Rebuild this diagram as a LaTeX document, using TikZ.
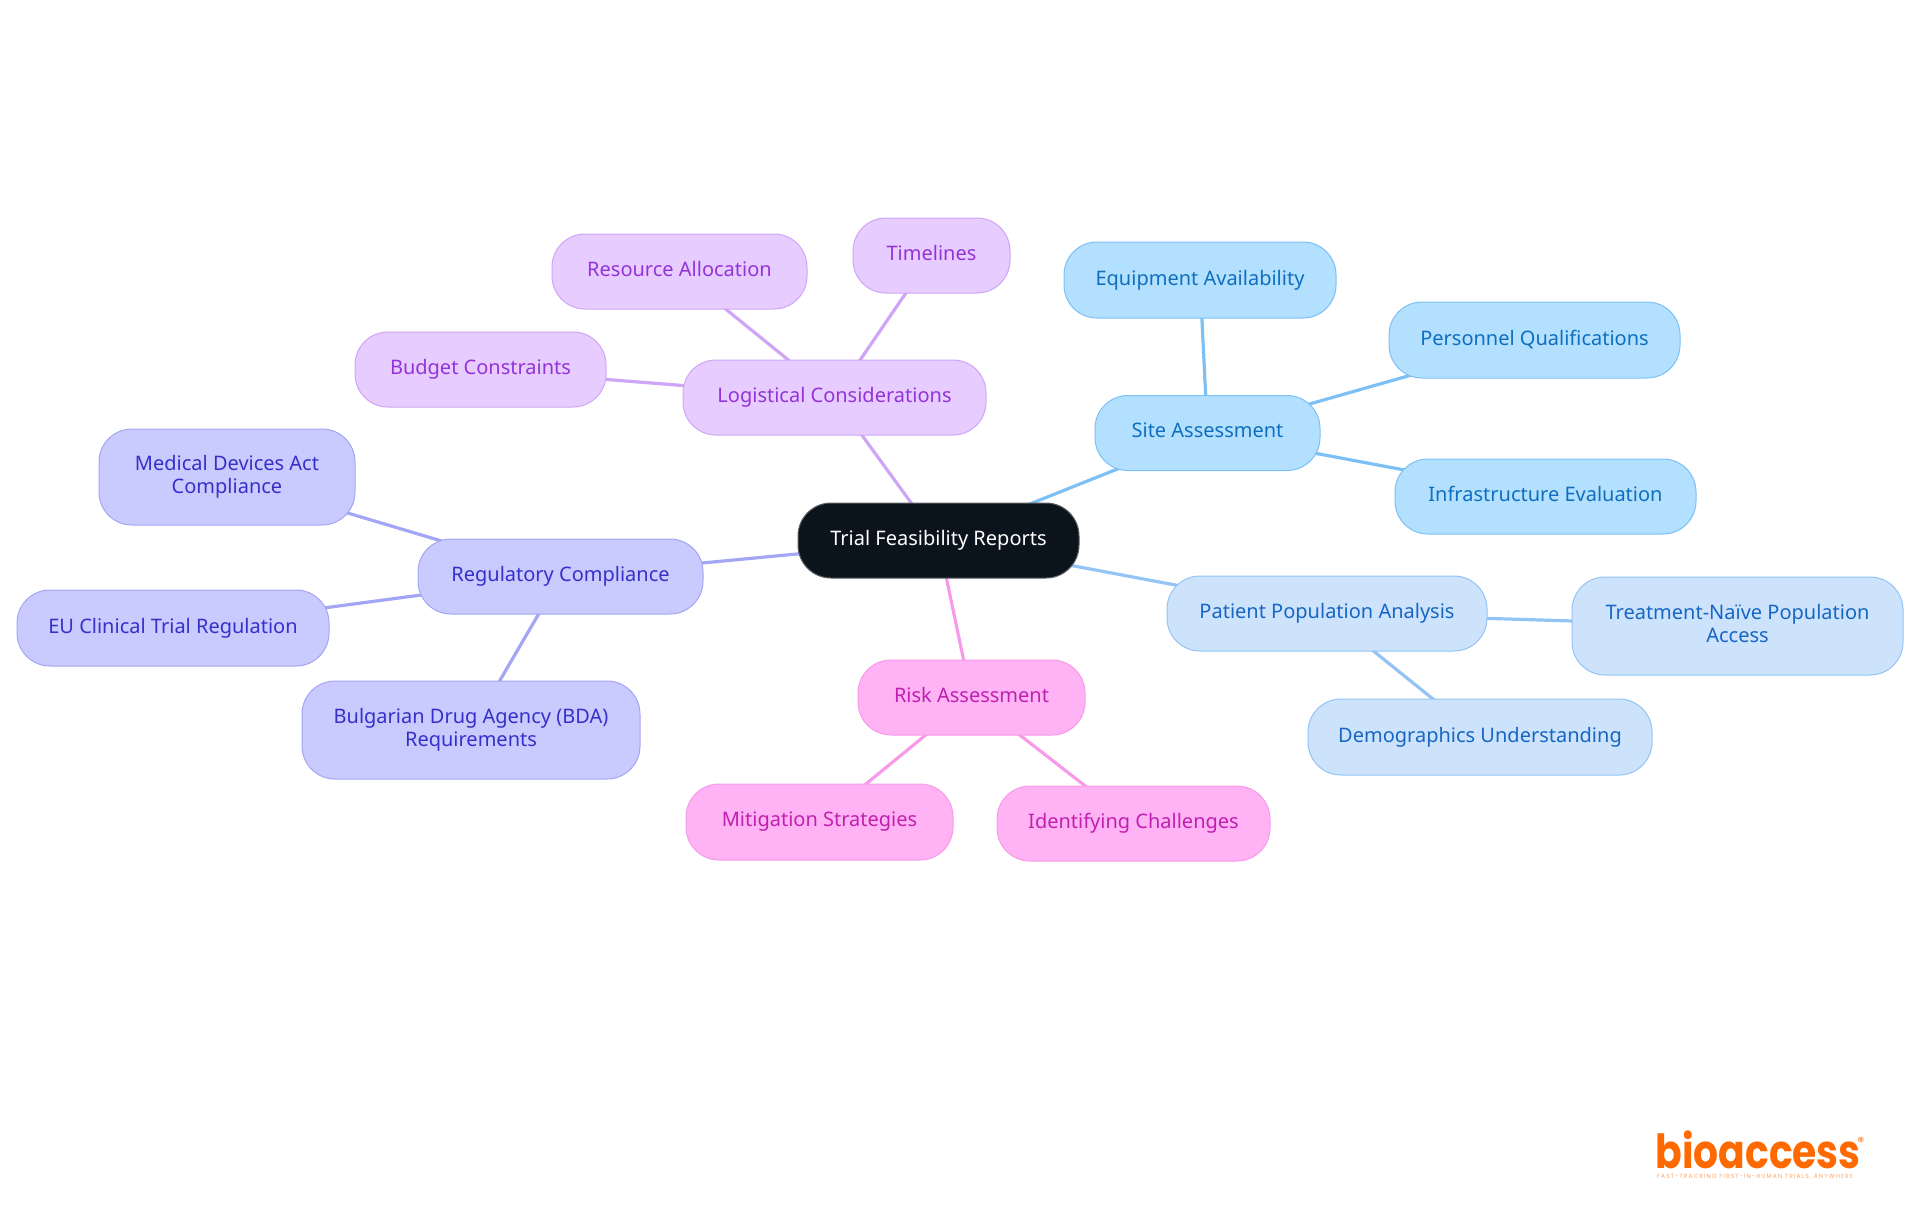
\documentclass[tikz,border=0pt]{standalone}
\usepackage{fontspec}
\setmainfont{Noto Sans}
\newfontfamily\logofont[FakeStretch=0.835]{Poppins}
\newfontfamily\tagfont[LetterSpace=18]{Poppins}
\usetikzlibrary{backgrounds}
\definecolor{rootfill}{HTML}{0B131C}
\definecolor{regfill}{HTML}{C9CBFF}
\definecolor{regline}{HTML}{A3A6F4}
\definecolor{regtext}{HTML}{3730C8}
\definecolor{logfill}{HTML}{E7CCFF}
\definecolor{logline}{HTML}{CFA5F5}
\definecolor{logtext}{HTML}{9333D8}
\definecolor{sitefill}{HTML}{B3E0FF}
\definecolor{siteline}{HTML}{7CC0F5}
\definecolor{sitetext}{HTML}{0F6FBF}
\definecolor{patfill}{HTML}{CDE3FC}
\definecolor{patline}{HTML}{93C4F5}
\definecolor{pattext}{HTML}{1766C4}
\definecolor{riskfill}{HTML}{FFB3F5}
\definecolor{riskline}{HTML}{F79BE8}
\definecolor{risktext}{HTML}{C020B0}
\definecolor{logoorange}{HTML}{FF6A00}
\newcommand{\topicstrut}{\rule[-2.4pt]{0pt}{9.6pt}}
\tikzset{
 topic/.style={rounded corners=16.5pt, align=center, font=\fontsize{10}{11.5}\selectfont, inner sep=0, line width=.5pt,
   execute at begin node=\topicstrut, execute at end node=\topicstrut},
 regbox/.style={topic, fill=regfill, draw=regline, text=regtext},
 logbox/.style={topic, fill=logfill, draw=logline, text=logtext},
 sitebox/.style={topic, fill=sitefill, draw=siteline, text=sitetext},
 patbox/.style={topic, fill=patfill, draw=patline, text=pattext},
 riskbox/.style={topic, fill=riskfill, draw=riskline, text=risktext},
 rootbox/.style={topic, fill=rootfill, draw=gray!70!rootfill, text=white},
}
\begin{document}
\begin{tikzpicture}[x=.5pt, y=-.5pt]
\useasboundingbox (0,0) rectangle (1920,1215);
\node[rootbox, minimum width=140.5pt, minimum height=37.5pt] (root) at (938.5,540.5) {Trial Feasibility Reports};
\node[regbox, minimum width=142.5pt, minimum height=37.5pt] (reg) at (560.5,576.5) {Regulatory Compliance};
\node[regbox, minimum width=128pt, minimum height=48pt] (medical) at (227,477) {Medical Devices Act\\Compliance};
\node[regbox, minimum width=156pt, minimum height=38pt] (eu) at (173,628) {EU Clinical Trial Regulation};
\node[regbox, minimum width=169pt, minimum height=49pt] (bda) at (471,730) {Bulgarian Drug Agency (BDA)\\Requirements};
\node[logbox, minimum width=151.5pt, minimum height=37.5pt] (logistic) at (834.5,397.5) {Logistical Considerations};
\node[logbox, minimum width=125.5pt, minimum height=37.5pt] (budget) at (480.5,369.5) {Budget Constraints};
\node[logbox, minimum width=127.5pt, minimum height=37.5pt] (resource) at (679.5,271.5) {Resource Allocation};
\node[logbox, minimum width=78.5pt, minimum height=37.5pt] (timelines) at (931.5,255.5) {Timelines};
\node[sitebox, minimum width=112.5pt, minimum height=37.5pt] (site) at (1207.5,433) {Site Assessment};
\node[sitebox, minimum width=136pt, minimum height=38pt] (equip) at (1200,280) {Equipment Availability};
\node[sitebox, minimum width=145.5pt, minimum height=38pt] (personnel) at (1534.5,340) {Personnel Qualifications};
\node[sitebox, minimum width=150.5pt, minimum height=37.5pt] (infra) at (1545.5,496.5) {Infrastructure Evaluation};
\node[patbox, minimum width=160pt, minimum height=37.5pt] (patient) at (1327,613.5) {Patient Population Analysis};
\node[patbox, minimum width=165.5pt, minimum height=49pt] (treat) at (1737.5,626) {Treatment-Naïve Population\\Access};
\node[patbox, minimum width=172pt, minimum height=38pt] (demo) at (1480,737) {Demographics Understanding};
\node[riskbox, minimum width=113.5pt, minimum height=37.5pt] (risk) at (971.5,697.5) {Risk Assessment};
\node[riskbox, minimum width=133.5pt, minimum height=38pt] (mitig) at (819.5,822) {Mitigation Strategies};
\node[riskbox, minimum width=136.5pt, minimum height=37.5pt] (identify) at (1133.5,823.5) {Identifying Challenges};
\node[text=logoorange, font=\logofont\bfseries\fontsize{23.5}{24}\selectfont, inner sep=0, anchor=base west] (logo) at (1655,1168) {bioaccess};
\node[text=logoorange, font=\tagfont\fontsize{6.5}{7}\selectfont, inner sep=0] (regmark) at (1861,1142) {®};
\node[text=logoorange!60, font=\tagfont\fontsize{3}{3.5}\selectfont, inner sep=0] (tagline) at (1755,1177) {FAST-TRACKING FIRST-IN-HUMAN TRIALS, ANYWHERE};
\begin{scope}[on background layer]
\foreach \a/\b/\c in {root/reg/regline, root/logistic/logline, root/site/siteline, root/patient/patline, root/risk/riskline,
  reg/medical/regline, reg/eu/regline, reg/bda/regline,
  logistic/budget/logline, logistic/resource/logline, logistic/timelines/logline,
  site/equip/siteline, site/personnel/siteline, site/infra/siteline,
  patient/treat/patline, patient/demo/patline,
  risk/mitig/riskline, risk/identify/riskline} {
 \draw[\c, line width=1.6pt] (\a.center)--(\b.center);
}
\end{scope}
\end{tikzpicture}
\end{document}
